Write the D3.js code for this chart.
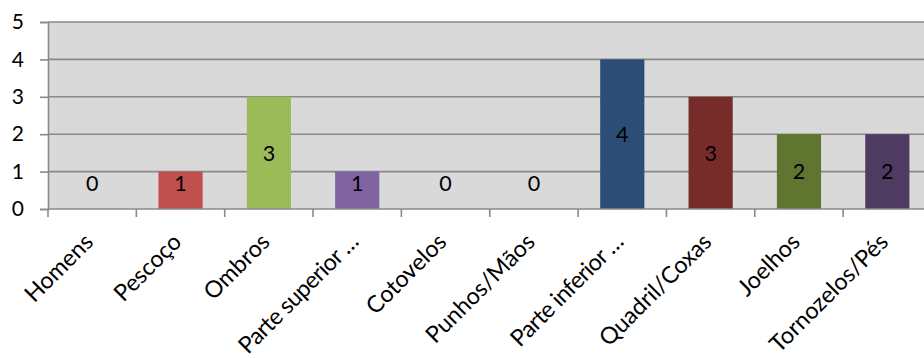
<!DOCTYPE html>
<html>
<head>
<meta charset="utf-8">
<script src="https://cdn.jsdelivr.net/npm/d3@7"></script>
<style>
  html, body { margin: 0; padding: 0; background: #ffffff; }
  svg { display: block; }
  text { font-family: Lato, "Open Sans", sans-serif; fill: #000; }
</style>
</head>
<body>
<svg id="chart" width="924" height="358"></svg>
<script>
// Body regions and number of reported complaints
const categories = ["Homens", "Pescoço", "Ombros", "Parte superior …", "Cotovelos",
                    "Punhos/Mãos", "Parte inferior …", "Quadril/Coxas", "Joelhos", "Tornozelos/Pés"];
const values = [0, 1, 3, 1, 0, 0, 4, 3, 2, 2];
const colors = ["#4F81BD", "#C0504D", "#9BBB59", "#8064A2", "#4BACC6",
                "#F79646", "#2C4D75", "#772C2A", "#5F7530", "#4D3B62"];
const yTicks = [0, 1, 2, 3, 4, 5];

const svg = d3.select("#chart");
const plotLeft = 48, plotTop = 22, plotBottom = 209, plotRight = 931.5;
const tickFont = 21, valueFont = 21.5, catFont = 23.3;

const x = d3.scaleBand().domain(categories).range([plotLeft, plotRight])
  .paddingInner(0.5).paddingOuter(0.25);
const xTick = d3.scaleBand().domain(categories).range([plotLeft, plotRight]).padding(0);
const y = d3.scaleLinear().domain([0, 5]).range([plotBottom, plotTop]);

// Plot area
svg.append("rect").attr("x", plotLeft).attr("y", plotTop)
  .attr("width", plotRight - plotLeft).attr("height", plotBottom - plotTop).attr("fill", "#D9D9D9");

// Horizontal gridlines
svg.append("g").selectAll("line").data(yTicks.filter(d => d > 0)).join("line")
  .attr("x1", plotLeft).attr("x2", plotRight)
  .attr("y1", d => y(d)).attr("y2", d => y(d))
  .attr("stroke", "#898989").attr("stroke-width", 1.6);

// Bars
svg.append("g").selectAll("rect").data(values).join("rect")
  .attr("x", (d, i) => x(categories[i]))
  .attr("width", x.bandwidth())
  .attr("y", d => y(d))
  .attr("height", d => y(0) - y(d))
  .attr("fill", (d, i) => colors[i]);

// Value labels, centred in each bar but kept clear of the baseline
svg.append("g").selectAll("text").data(values).join("text")
  .attr("x", (d, i) => x(categories[i]) + x.bandwidth() / 2)
  .attr("y", d => Math.min((y(d) + y(0)) / 2, y(0) - 26))
  .attr("dy", "0.36em")
  .attr("text-anchor", "middle")
  .style("font-size", valueFont + "px")
  .text(d => d);

// Y axis
const yAxis = svg.append("g").attr("transform", `translate(${plotLeft},0)`)
  .call(d3.axisLeft(y).tickValues(yTicks).tickSize(8).tickPadding(16).tickFormat(d3.format("d")));
yAxis.select(".domain").attr("stroke", "#898989").attr("stroke-width", 1.6);
yAxis.selectAll(".tick line").attr("stroke", "#898989").attr("stroke-width", 1.6);
yAxis.selectAll(".tick text").style("font-size", tickFont + "px")
  .style("font-family", "Lato, 'Open Sans', sans-serif").attr("fill", "#000");

// X axis: ticks at category boundaries
const bounds = categories.map(c => xTick(c));
svg.append("line").attr("x1", plotLeft).attr("x2", plotRight)
  .attr("y1", plotBottom).attr("y2", plotBottom)
  .attr("stroke", "#898989").attr("stroke-width", 1.6);
svg.append("g").selectAll("line").data(bounds).join("line")
  .attr("x1", d => d).attr("x2", d => d)
  .attr("y1", plotBottom).attr("y2", plotBottom + 8)
  .attr("stroke", "#898989").attr("stroke-width", 1.6);

// Category labels rotated 45 degrees; truncated names are set a little tighter
svg.append("g").selectAll("text").data(categories).join("text")
  .attr("transform", c => `translate(${xTick(c) + xTick.bandwidth() / 2 - 10},${plotBottom + 22}) rotate(-45)`)
  .attr("text-anchor", "end")
  .attr("dy", "0.75em")
  .style("font-size", catFont + "px")
  .style("letter-spacing", c => c.includes("…") ? "-0.6px" : null)
  .text(c => c);
</script>
</body>
</html>
